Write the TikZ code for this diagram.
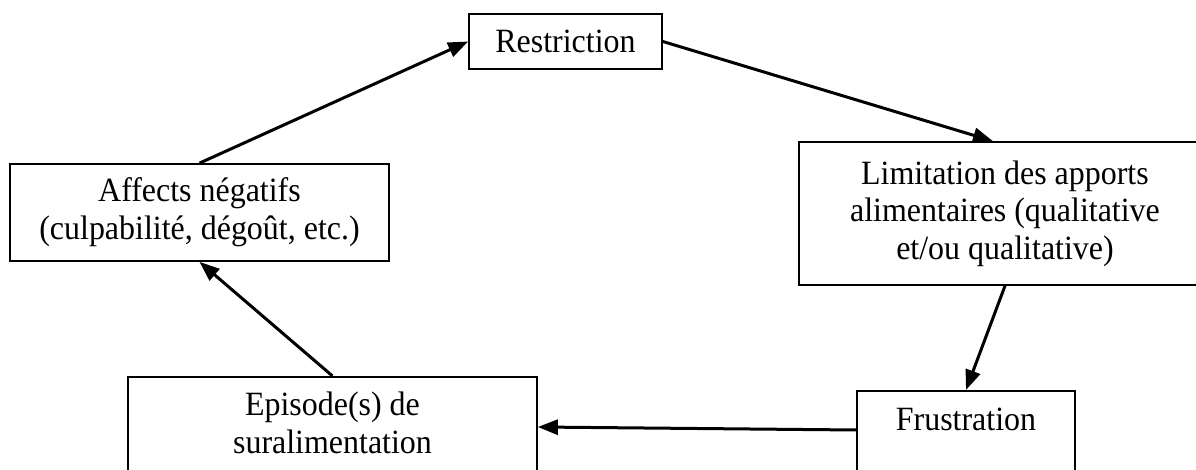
\documentclass[tikz,border=0pt]{standalone}
\usepackage{fontspec}
\setmainfont{Liberation Serif}[FakeStretch=0.94]
\usetikzlibrary{arrows.meta, calc}

\begin{document}
\begin{tikzpicture}[x=0.5pt, y=-0.5pt,
  box/.style = {draw, line width=0.85pt, align=center, inner sep=0pt,
    font=\fontsize{17pt}{18.8pt}\selectfont},
  link/.style = {line width=1.5pt, -{Triangle[length=10pt, width=7.5pt]}}]
\useasboundingbox (0,0) rectangle (1196,470);
\clip (0,0) rectangle (1196,470);

\node[box, minimum width=96.5pt, minimum height=27.5pt] (restr) at (565.5,41.5) {Restriction};
\node[box, minimum width=206pt, minimum height=71.5pt] (lim) at (1005,213.5)
  {Limitation des apports\\ alimentaires (qualitative\\ et/ou qualitative)};
\node[box, minimum width=189.5pt, minimum height=48.5pt] (aff) at (199.5,212.5)
  {Affects négatifs\\ (culpabilité, dégoût, etc.)};

% boxes cut by the bottom edge
\node[box, anchor=north, minimum width=109pt, text height=11.5pt, inner ysep=8.5pt,
  text depth=45pt] (frust) at (966,390) {Frustration};
\node[box, anchor=north, minimum width=204.5pt, inner ysep=7.75pt,
  text depth=45pt] (epis) at (332.5,376) {Episode(s) de\\ suralimentation};

\draw[link] (aff.north) -- (restr.west);
\draw[link] (restr.east) -- ($(lim.north)+(-12,0)$);
\draw[link] (lim.south) -- (frust.north);
\draw[link] ($(frust.north west)+(0,40)$) -- ($(epis.north east)+(0,51)$);
\draw[link] (epis.north) -- (aff.south);
\end{tikzpicture}
\end{document}
